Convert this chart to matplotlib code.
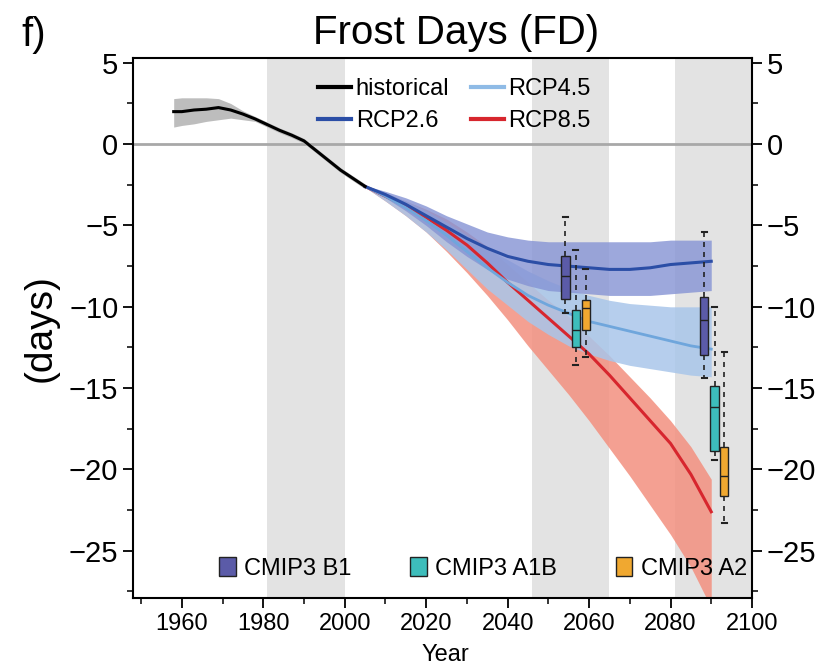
import matplotlib
matplotlib.use('Agg')

import matplotlib.pyplot as plt
import numpy as np
from matplotlib.patches import Patch
from matplotlib.lines import Line2D

plt.rcParams['font.family'] = ['Liberation Sans', 'DejaVu Sans']

# historical multi-model median and spread
hist_years = [1958, 1960, 1963, 1966, 1969, 1972, 1975, 1978, 1981, 1984,
              1987, 1990, 1993, 1996, 1999, 2002, 2005]
hist_mid = [2.0, 2.0, 2.1, 2.15, 2.25, 2.1, 1.85, 1.55, 1.2, 0.85,
            0.55, 0.2, -0.4, -1.0, -1.6, -2.1, -2.6]
hist_hi = [2.8, 2.85, 2.85, 2.85, 2.8, 2.5, 2.05, 1.7, 1.35, 1.0,
           0.7, 0.35, -0.25, -0.85, -1.45, -1.95, -2.45]
hist_lo = [1.05, 1.15, 1.25, 1.4, 1.5, 1.6, 1.5, 1.4, 1.05, 0.7,
           0.4, 0.05, -0.55, -1.15, -1.75, -2.25, -2.75]

# scenario projections
fut_years = [2005, 2010, 2015, 2020, 2025, 2030, 2035, 2040, 2045, 2050,
             2055, 2060, 2065, 2070, 2075, 2080, 2085, 2090]
rcp26_mid = [-2.6, -3.1, -3.7, -4.4, -5.1, -5.8, -6.4, -6.9, -7.2, -7.4,
             -7.5, -7.6, -7.7, -7.7, -7.6, -7.4, -7.3, -7.2]
rcp26_hi = [-2.55, -2.9, -3.3, -3.8, -4.4, -4.9, -5.4, -5.7, -5.9, -6.0,
            -6.0, -6.0, -6.0, -6.0, -6.0, -5.9, -5.9, -5.9]
rcp26_lo = [-2.65, -3.3, -4.1, -5.0, -6.0, -6.9, -7.7, -8.3, -8.7, -9.0,
            -9.1, -9.2, -9.3, -9.3, -9.3, -9.2, -9.1, -9.0]
rcp45_mid = [-2.6, -3.2, -3.9, -4.7, -5.6, -6.6, -7.6, -8.5, -9.3, -9.9,
             -10.4, -10.9, -11.2, -11.5, -11.8, -12.1, -12.4, -12.6]
rcp45_hi = [-2.55, -3.0, -3.5, -4.1, -4.8, -5.6, -6.4, -7.1, -7.8, -8.4,
            -8.9, -9.3, -9.6, -9.8, -9.9, -10.0, -10.0, -10.0]
rcp45_lo = [-2.65, -3.5, -4.4, -5.4, -6.5, -7.7, -8.9, -9.9, -10.9, -11.7,
            -12.4, -12.9, -13.3, -13.6, -13.8, -14.0, -14.2, -14.3]
rcp85_mid = [-2.6, -3.2, -3.8, -4.5, -5.3, -6.2, -7.3, -8.5, -9.6, -10.7,
             -11.8, -12.9, -14.2, -15.6, -17.0, -18.4, -20.3, -22.6]
rcp85_hi = [-2.55, -3.0, -3.5, -4.0, -4.6, -5.4, -6.3, -7.4, -8.5, -9.6,
            -10.6, -11.8, -13.0, -14.3, -15.6, -17.0, -18.6, -20.6]
rcp85_lo = [-2.65, -3.5, -4.4, -5.4, -6.6, -7.9, -9.3, -10.8, -12.4, -13.9,
            -15.4, -17.0, -18.7, -20.4, -22.2, -24.0, -26.0, -28.5]

# CMIP3 box plots (2046-2065 and 2081-2100)
cmip3_names = ['CMIP3 B1', 'CMIP3 A1B', 'CMIP3 A2']
box_years = [[2054.2, 2056.7, 2059.2], [2088.3, 2090.8, 2093.2]]
box_whishi = [[-4.5, -6.5, -7.7], [-5.4, -10.0, -12.8]]
box_q3 = [[-6.9, -10.2, -9.55], [-9.4, -14.85, -18.6]]
box_med = [[-8.1, -11.4, -10.1], [-10.8, -16.15, -20.4]]
box_q1 = [[-9.5, -12.5, -11.4], [-12.95, -18.85, -21.6]]
box_whislo = [[-10.4, -13.6, -13.1], [-14.35, -19.4, -23.3]]

# reference periods shaded in grey
periods = [(1981, 2000), (2046, 2065), (2081, 2100)]

fig = plt.figure(figsize=(8.4, 6.7), dpi=100)
ax = fig.add_axes([0.1583, 0.1075, 0.7369, 0.806])

for p0, p1 in periods:
    ax.axvspan(p0, p1, color='#e3e3e3', lw=0, zorder=0)
ax.axhline(0, color='#a8a8a8', lw=2, zorder=1)

ax.fill_between(hist_years, hist_lo, hist_hi, color='#bdbdbd', lw=0, zorder=2)
ax.fill_between(fut_years, rcp85_lo, rcp85_hi, color='#f3907f', alpha=0.85, lw=0, zorder=2)
ax.fill_between(fut_years, rcp45_lo, rcp45_hi, color='#a9c6ea', alpha=0.85, lw=0, zorder=3)
ax.fill_between(fut_years, rcp26_lo, rcp26_hi, color='#8593d4', alpha=0.8, lw=0, zorder=3)

ax.plot(fut_years, rcp85_mid, color='#d7262e', lw=2.2, zorder=4)
ax.plot(fut_years, rcp45_mid, color='#6fa6dc', lw=2.0, zorder=4)
ax.plot(fut_years, rcp26_mid, color='#2b4ea6', lw=2.2, zorder=4)
ax.plot(hist_years, hist_mid, color='black', lw=2.2, zorder=5)

box_colors = ['#5b5ba8', '#3dbdbb', '#f0a830']
for k in range(2):
    for j in range(3):
        stats = [dict(med=box_med[k][j], q1=box_q1[k][j], q3=box_q3[k][j],
                      whislo=box_whislo[k][j], whishi=box_whishi[k][j])]
        ax.bxp(stats, positions=[box_years[k][j]], widths=2.0, patch_artist=True,
               showfliers=False, manage_ticks=False, capwidths=[1.2],
               boxprops=dict(facecolor=box_colors[j], edgecolor='#222222', lw=1),
               medianprops=dict(color='#222222', lw=1),
               whiskerprops=dict(color='#222222', lw=1.2, linestyle=(0, (3, 3))),
               capprops=dict(color='#222222', lw=1.5), zorder=6)

ax.set_xlim(1948, 2100)
ax.set_ylim(-27.9, 5.3)
ax.set_xticks(np.arange(1960, 2101, 20))
ax.set_xticks(np.arange(1950, 2101, 10), minor=True)
ax.set_yticks(np.arange(-25, 6, 5))
ax.set_yticks(np.arange(-27.5, 5.1, 2.5), minor=True)
ax.set_yticklabels(['\u221225', '\u221220', '\u221215', '\u221210', '\u22125', '0', '5'])
ax.tick_params(axis='y', which='both', right=True, labelright=True, labelsize=21)
ax.tick_params(axis='x', labelsize=17)
ax.tick_params(which='major', length=7, width=1.3, direction='out')
ax.tick_params(which='minor', length=4, width=1.1, direction='out')
for s in ax.spines.values():
    s.set_linewidth(1.5)

line_handles = [Line2D([], [], color='black', lw=3),
                Line2D([], [], color='#2b4ea6', lw=3),
                Line2D([], [], color='#8fbbe6', lw=3),
                Line2D([], [], color='#d7262e', lw=3)]
leg1 = ax.legend(line_handles, ['historical', 'RCP2.6', 'RCP4.5', 'RCP8.5'],
                 ncol=2, loc='upper left', bbox_to_anchor=(0.28, 0.985), frameon=False,
                 fontsize=17, handlelength=1.4, handletextpad=0.2, columnspacing=0.9,
                 labelspacing=0.45, borderpad=0)
ax.add_artist(leg1)

box_handles = [Patch(facecolor=c, edgecolor='#222222') for c in box_colors]
ax.legend(box_handles, cmip3_names, ncol=3, loc='lower left', bbox_to_anchor=(0.12, 0.012),
          frameon=False, fontsize=17, handlelength=0.7, handleheight=0.9,
          handletextpad=0.35, columnspacing=2.5, borderpad=0)

fig.text(0.543, 0.951, 'Frost Days (FD)', ha='center', va='center', fontsize=29)
fig.text(0.026, 0.948, 'f)', ha='left', va='center', fontsize=29)
fig.text(0.048, 0.51, '(days)', ha='center', va='center', rotation=90, fontsize=28)
fig.text(0.53, 0.022, 'Year', ha='center', va='center', fontsize=17)

fig.savefig('out.png', dpi=100)
